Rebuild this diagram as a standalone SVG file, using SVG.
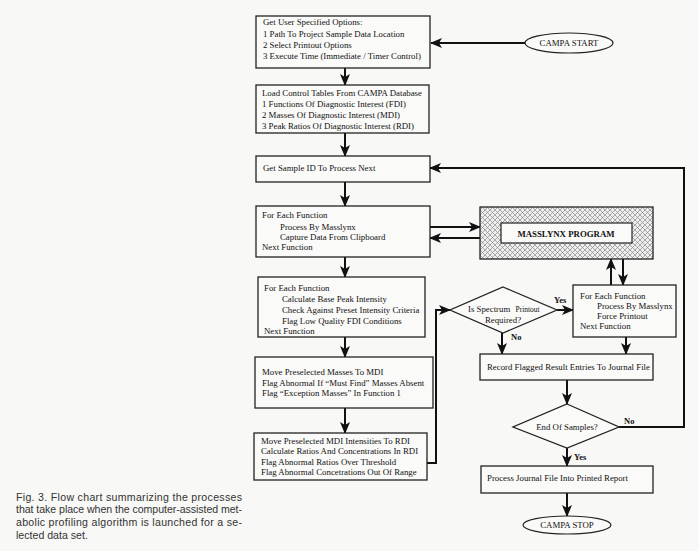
<svg xmlns="http://www.w3.org/2000/svg" width="699" height="551" viewBox="0 0 699 551">
<defs>
<style>
.bx{fill:#fafaf8;stroke:#222;stroke-width:1.3}
.t{font-family:"Liberation Serif","Times New Roman",serif;font-size:8.8px;fill:#111}
.tb{font-family:"Liberation Serif","Times New Roman",serif;font-size:8.5px;font-weight:bold;fill:#111}
.ln{fill:none;stroke:#111;stroke-width:2}
.cap{font-family:"Liberation Sans",Arial,sans-serif;font-size:10.6px;fill:#333}
</style>
<marker id="ah" markerUnits="userSpaceOnUse" markerWidth="12" markerHeight="10" refX="11" refY="5" orient="auto">
<path d="M0,0 L12,5 L0,10 L3,5 Z" fill="#111"/>
</marker>
<pattern id="hatch" patternUnits="userSpaceOnUse" width="5" height="5">
<rect width="5" height="5" fill="#eeeeee"/>
<path d="M0,0 L5,5 M5,0 L0,5" stroke="#888" stroke-width="0.7"/>
</pattern>
</defs>
<rect width="699" height="551" fill="#f8f8f6"/>

<g id="connectors">
<path class="ln" d="M525,43 L431,43" marker-end="url(#ah)"/>
<path class="ln" d="M345,68 L345,85" marker-end="url(#ah)"/>
<path class="ln" d="M345,133 L345,156" marker-end="url(#ah)"/>
<path class="ln" d="M345,182 L345,206" marker-end="url(#ah)"/>
<path class="ln" d="M345,257 L345,277" marker-end="url(#ah)"/>
<path class="ln" d="M345,337 L345,357" marker-end="url(#ah)"/>
<path class="ln" d="M345,408 L345,433" marker-end="url(#ah)"/>
<path class="ln" d="M430,227 L480,227" marker-end="url(#ah)"/>
<path class="ln" d="M480,238 L430,238" marker-end="url(#ah)"/>
<path class="ln" d="M611,285 L611,259" marker-end="url(#ah)"/>
<path class="ln" d="M623,259 L623,285" marker-end="url(#ah)"/>
<path class="ln" d="M557,310 L573,310" marker-end="url(#ah)"/>
<path class="ln" d="M502,333 L502,354" marker-end="url(#ah)"/>
<path class="ln" d="M626,337 L626,354" marker-end="url(#ah)"/>
<path class="ln" d="M567,380 L567,404" marker-end="url(#ah)"/>
<path class="ln" d="M567,448 L567,466" marker-end="url(#ah)"/>
<path class="ln" d="M567,493 L567,516" marker-end="url(#ah)"/>
<path class="ln" d="M619,427 L684,427 L684,168 L430,168" marker-end="url(#ah)"/>
<path class="ln" d="M427,463 L436,463 L436,310 L450,310" stroke-width="1.5" marker-end="url(#ah)"/>
<text class="tb" x="554" y="303">Yes</text>
<text class="tb" x="511" y="340">No</text>
<text class="tb" x="624" y="424">No</text>
<text class="tb" x="574" y="460">Yes</text>
</g>

<g id="start">
<ellipse cx="569" cy="43" rx="44" ry="10" fill="#fafaf8" stroke="#222" stroke-width="1.2"/>
<text class="t" x="569" y="46" text-anchor="middle">CAMPA START</text>
</g>

<g id="options">
<rect class="bx" x="256" y="16" width="174" height="52"/>
<text class="t" x="263" y="25">Get User Specified Options:</text>
<text class="t" x="263" y="37">1 Path To Project Sample Data Location</text>
<text class="t" x="263" y="48">2 Select Printout Options</text>
<text class="t" x="263" y="59">3 Execute Time (Immediate / Timer Control)</text>
</g>

<g id="load">
<rect class="bx" x="256" y="85" width="173" height="48"/>
<text class="t" x="262" y="96">Load Control Tables From CAMPA Database</text>
<text class="t" x="262" y="107">1 Functions Of Diagnostic Interest (FDI)</text>
<text class="t" x="262" y="118">2 Masses Of Diagnostic Interest (MDI)</text>
<text class="t" x="262" y="129">3 Peak Ratios Of Diagnostic Interest (RDI)</text>
</g>

<g id="sampleid">
<rect class="bx" x="256" y="156" width="174" height="26"/>
<text class="t" x="263" y="171">Get Sample ID To Process Next</text>
</g>

<g id="process">
<rect class="bx" x="256" y="206" width="174" height="51"/>
<text class="t" x="262" y="218">For Each Function</text>
<text class="t" x="280" y="230">Process By Masslynx</text>
<text class="t" x="280" y="240">Capture Data From Clipboard</text>
<text class="t" x="262" y="250">Next Function</text>
</g>

<g id="masslynx">
<rect x="480" y="207" width="173" height="52" fill="url(#hatch)" stroke="#222" stroke-width="1.3"/>
<rect x="501" y="223" width="131" height="20" fill="#fafaf8" stroke="#222" stroke-width="1.2"/>
<text class="t" x="566" y="237" text-anchor="middle" font-weight="bold" font-size="10.5px">MASSLYNX PROGRAM</text>
</g>

<g id="calc">
<rect class="bx" x="258" y="277" width="167" height="60"/>
<text class="t" x="264" y="291">For Each Function</text>
<text class="t" x="282" y="302">Calculate Base Peak Intensity</text>
<text class="t" x="282" y="313">Check Against Preset Intensity Criteria</text>
<text class="t" x="282" y="324">Flag Low Quality FDI Conditions</text>
<text class="t" x="264" y="334">Next Function</text>
</g>

<g id="mdi">
<rect class="bx" x="255" y="357" width="178" height="51"/>
<text class="t" x="262" y="375">Move Preselected Masses To MDI</text>
<text class="t" x="262" y="386">Flag Abnormal If “Must Find” Masses Absent</text>
<text class="t" x="262" y="396">Flag “Exception Masses” In Function 1</text>
</g>

<g id="rdi">
<rect class="bx" x="254" y="433" width="173" height="47"/>
<text class="t" x="261" y="444">Move Preselected MDI Intensities To RDI</text>
<text class="t" x="261" y="454">Calculate Ratios And Concentrations In RDI</text>
<text class="t" x="261" y="465">Flag Abnormal Ratios Over Threshold</text>
<text class="t" x="261" y="475">Flag Abnormal Concetrations Out Of Range</text>
</g>

<g id="spectrum">
<polygon points="503,287 557,310 503,333 450,310" class="bx"/>
<text class="t" x="468" y="312" font-size="8.5px">Is Spectrum <tspan font-size="7.5px" dx="3">Printout</tspan></text>
<text class="t" x="503" y="323" text-anchor="middle" font-size="8.5px">Required?</text>
</g>

<g id="force">
<rect class="bx" x="573" y="285" width="103" height="52"/>
<text class="t" x="580" y="299">For Each Function</text>
<text class="t" x="597" y="309">Process By Masslynx</text>
<text class="t" x="597" y="319">Force Printout</text>
<text class="t" x="580" y="329">Next Function</text>
</g>

<g id="record">
<rect class="bx" x="480" y="354" width="173" height="26"/>
<text class="t" x="487" y="370">Record Flagged Result Entries To Journal File</text>
</g>

<g id="endsamples">
<polygon points="567,404 619,427 567,448 513,427" class="bx"/>
<text class="t" x="567" y="430" text-anchor="middle">End Of Samples?</text>
</g>

<g id="journal">
<rect class="bx" x="481" y="466" width="172" height="27"/>
<text class="t" x="487" y="481">Process Journal File Into Printed Report</text>
</g>

<g id="stop">
<ellipse cx="567" cy="525" rx="44" ry="9" fill="#fafaf8" stroke="#222" stroke-width="1.2"/>
<text class="t" x="567" y="528" text-anchor="middle">CAMPA STOP</text>
</g>

<g id="caption">
<text class="cap" x="16" y="501" textLength="226" lengthAdjust="spacing">Fig. 3. Flow chart summarizing the processes</text>
<text class="cap" x="16" y="513" textLength="226" lengthAdjust="spacing">that take place when the computer-assisted met-</text>
<text class="cap" x="16" y="526" textLength="226" lengthAdjust="spacing">abolic profiling algorithm is launched for a se-</text>
<text class="cap" x="16" y="539">lected data set.</text>
</g>
</svg>
